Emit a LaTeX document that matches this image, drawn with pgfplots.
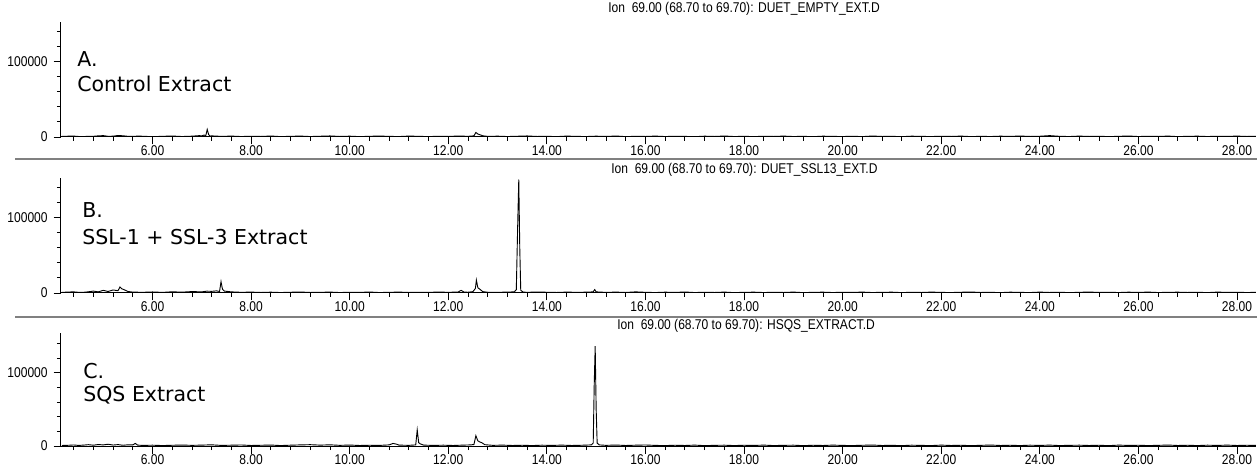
\documentclass[border=0pt]{standalone}
\usepackage{fontspec}
\setmainfont{Liberation Sans}
\newfontfamily\tickfont[FakeStretch=0.85]{Liberation Sans}
\newfontfamily\panelfont{DejaVu Sans}
\usepackage{pgfplots}
\usepackage{pgfplotstable}
\pgfplotsset{compat=1.18}

% Ion 69 traces (retention time in min, abundance)
\pgfplotstableread{
t y
4.16 700
4.3 1100
4.4 1200
4.5 700
4.6 500
4.7 1000
4.8 900
4.9 1500
5.0 1800
5.1 900
5.2 1100
5.3 2000
5.4 1600
5.5 900
5.6 700
5.7 1200
5.8 1000
6.0 400
6.2 900
6.4 1300
6.6 600
6.8 1100
6.95 1800
7.0 1500
7.05 2600
7.08 1400
7.11 10000
7.14 3000
7.17 1200
7.2 1500
7.4 800
7.6 1200
7.8 600
8.0 1000
8.2 700
8.4 1300
8.6 500
8.8 900
9.0 1200
9.2 600
9.4 1000
9.6 1400
9.8 700
10.0 1100
10.2 500
10.4 900
10.6 1300
10.8 800
11.0 600
11.2 1200
11.4 900
11.6 500
11.8 1000
12.0 700
12.2 1300
12.4 900
12.52 1500
12.56 6000
12.6 4000
12.64 3000
12.7 1600
12.8 800
13.0 1100
13.2 600
13.4 1000
13.6 1400
13.8 700
14.0 900
14.2 500
14.4 1200
14.6 800
14.8 600
15.0 1100
15.2 700
15.4 1300
15.6 500
15.8 900
16.0 700
16.2 1200
16.4 600
16.6 1000
16.8 800
17.0 400
17.2 1100
17.4 700
17.6 1300
17.8 600
18.0 900
18.2 500
18.4 1000
18.6 700
18.8 1200
19.0 600
19.2 900
19.4 400
19.6 1100
19.8 800
20.0 600
20.2 1000
20.4 500
20.6 1300
20.8 700
21.0 900
21.2 400
21.4 1100
21.6 800
21.8 600
22.0 1000
22.2 700
22.4 1200
22.6 500
22.8 900
23.0 600
23.2 1100
23.4 800
23.6 1300
23.8 700
24.0 1000
24.2 1800
24.4 900
24.6 600
24.8 1200
25.0 700
25.2 1000
25.4 500
25.6 900
25.8 1300
26.0 600
26.2 1000
26.4 700
26.6 1200
26.8 500
27.0 900
27.2 1100
27.4 600
27.6 1000
27.8 800
28.0 1200
28.2 700
28.38 900
}\panelA

\pgfplotstableread{
t y
4.16 800
4.3 1300
4.4 1500
4.5 900
4.6 900
4.7 1600
4.8 2500
4.9 1500
5.0 3500
5.1 2000
5.2 4000
5.3 3000
5.34 8000
5.38 5500
5.42 4500
5.5 2000
5.6 1200
5.8 900
6.0 1400
6.2 800
6.4 1600
6.6 1100
6.8 1900
7.0 1500
7.1 2400
7.2 2200
7.3 2800
7.36 2000
7.39 15000
7.42 5000
7.46 2500
7.6 1500
7.8 900
8.0 1200
8.2 700
8.4 1100
8.6 600
8.8 1000
9.0 1300
9.2 700
9.4 900
9.6 1200
9.8 600
10.0 1000
10.2 800
10.4 1300
10.6 600
10.8 900
11.0 1200
11.2 700
11.4 1000
11.6 800
11.8 1300
12.0 900
12.2 1300
12.26 3500
12.32 1200
12.4 1000
12.5 1800
12.55 6000
12.57 17000
12.6 7000
12.64 5000
12.7 1800
12.8 1000
13.0 900
13.2 1200
13.34 1500
13.38 4500
13.41 95000
13.43 150000
13.45 60000
13.47 3500
13.52 1200
13.6 900
13.8 1300
14.0 1000
14.2 700
14.4 1200
14.6 900
14.8 1100
14.94 1500
14.97 4500
15.0 1500
15.2 800
15.4 1200
15.6 700
15.8 1500
16.0 900
16.2 600
16.4 1100
16.6 800
16.8 1300
17.0 600
17.2 1000
17.4 700
17.6 1200
17.8 500
18.0 900
18.2 1100
18.4 600
18.6 1000
18.8 700
19.0 1200
19.2 500
19.4 900
19.6 1100
19.8 600
20.0 1000
20.2 800
20.4 1200
20.6 600
20.8 900
21.0 1100
21.2 500
21.4 1000
21.6 700
21.8 1200
22.0 800
22.2 600
22.4 1000
22.6 1300
22.8 700
23.0 900
23.2 500
23.4 1100
23.6 800
23.8 600
24.0 1200
24.2 700
24.4 1000
24.6 500
24.8 900
25.0 1300
25.2 700
25.4 1000
25.6 600
25.8 1100
26.0 800
26.2 1200
26.4 600
26.6 900
26.8 1100
27.0 700
27.2 1000
27.4 500
27.6 1200
27.8 800
28.0 1000
28.2 600
28.38 900
}\panelB

\pgfplotstableread{
t y
4.16 700
4.3 1000
4.4 1400
4.5 800
4.6 1200
4.7 1800
4.8 1100
4.9 2000
5.0 1500
5.1 2400
5.2 1300
5.3 1900
5.4 1000
5.5 1600
5.6 1500
5.65 3500
5.7 1200
5.8 800
6.0 1100
6.2 600
6.4 1000
6.6 1300
6.8 900
7.0 1200
7.2 1600
7.4 800
7.6 1100
7.8 1400
8.0 700
8.2 1000
8.4 1300
8.6 600
8.8 1100
9.0 1500
9.2 1800
9.4 1200
9.6 1600
9.8 900
10.0 1300
10.2 700
10.4 1000
10.6 800
10.8 1500
10.88 3500
10.95 2500
11.0 1200
11.2 900
11.34 1500
11.37 22000
11.4 4500
11.43 3000
11.5 1200
11.7 800
11.9 1100
12.1 700
12.3 1200
12.45 1500
12.52 2000
12.56 14000
12.6 7000
12.64 5500
12.68 4500
12.74 1800
12.9 900
13.1 1200
13.3 700
13.5 1000
13.7 600
13.9 1100
14.1 800
14.3 1200
14.5 700
14.7 1000
14.9 1500
14.94 4000
14.96 82000
14.98 136000
15.0 50000
15.02 4000
15.06 1500
15.2 900
15.4 1300
15.6 700
15.8 1100
16.0 1400
16.2 800
16.4 600
16.6 1000
16.8 700
17.0 1200
17.2 500
17.4 900
17.6 1100
17.8 600
18.0 1000
18.2 800
18.4 1200
18.6 600
18.8 900
19.0 1100
19.2 500
19.4 1000
19.6 700
19.8 1200
20.0 800
20.2 600
20.4 1000
20.6 1300
20.8 700
21.0 900
21.2 500
21.4 1100
21.6 800
21.8 600
22.0 1200
22.2 700
22.4 1000
22.6 500
22.8 900
23.0 1300
23.2 700
23.4 1000
23.6 600
23.8 1100
24.0 800
24.2 1200
24.4 600
24.6 900
24.8 1100
25.0 700
25.2 1000
25.4 500
25.6 1200
25.8 800
26.0 1000
26.2 600
26.4 900
26.6 1300
26.8 700
27.0 1000
27.2 600
27.4 1100
27.6 800
27.8 1200
28.0 700
28.2 1000
28.38 800
}\panelC

\pgfplotsset{
  chrom/.style={
    scale only axis, width=717pt, height=69pt,
    xmin=4.144, xmax=28.385, ymin=0, ymax=152000,
    axis x line=bottom, axis y line=left,
    axis line style={-, line width=0.6pt, black},
    xtick={6,8,...,28},
    xticklabels={6.00,8.00,10.00,12.00,14.00,16.00,18.00,20.00,22.00,24.00,26.00,28.00},
    minor xtick={4.4,4.8,...,28.1},
    ytick={0,100000}, yticklabels={0,100000},
    minor ytick={20000,40000,60000,80000,120000,140000},
    scaled y ticks=false,
    tick align=outside,
    major tick length=4.5pt, minor tick length=2.4pt,
    every tick/.style={black, line width=0.5pt},
    ticklabel style={font=\tickfont\fontsize{8.5}{9}\selectfont, text=black},
    xticklabel style={yshift=2.6pt},
  },
  trace/.style={black, line width=0.55pt, no marks},
}

\begin{document}
\begin{tikzpicture}
\path[use as bounding box] (0pt,0pt) rectangle (754.2pt,283.8pt);

% A. Control extract
\begin{axis}[chrom, at={(36.6pt,201.6pt)}, anchor=south west]
\addplot[trace] table[x=t, y=y] {\panelA};
\end{axis}

% B. SSL-1 + SSL-3 extract
\begin{axis}[chrom, at={(36.6pt,108pt)}, anchor=south west]
\addplot[trace] table[x=t, y=y] {\panelB};
\end{axis}

% C. SQS extract
\begin{axis}[chrom, height=67.8pt, ymax=154000, at={(36.6pt,16.2pt)}, anchor=south west]
\addplot[trace] table[x=t, y=y] {\panelC};
\end{axis}

% panel separators
\draw[black!50, line width=1.1pt] (9pt,188.4pt) -- (754.2pt,188.4pt);
\draw[black!50, line width=1.1pt] (9pt,93.6pt) -- (754.2pt,93.6pt);

% ion headers
\begin{scope}[every node/.style={font=\tickfont\fontsize{8.5}{9}\selectfont, text=black, anchor=west, inner sep=0pt}]
\node at (364.8pt,278.4pt) {Ion\ \ 69.00 (68.70 to 69.70): DUET\_EMPTY\_EXT.D};
\node at (366.6pt,181.8pt) {Ion\ \ 69.00 (68.70 to 69.70): DUET\_SSL13\_EXT.D};
\node at (370.2pt,88.2pt) {Ion\ \ 69.00 (68.70 to 69.70): HSQS\_EXTRACT.D};
\end{scope}

% panel captions
\begin{scope}[every node/.style={font=\panelfont\fontsize{12.3}{14}\selectfont, anchor=base west, inner sep=0pt}]
\node at (46.2pt,243.6pt) {A.};
\node at (46.2pt,228.6pt) {Control Extract};
\node at (49.2pt,153pt) {B.};
\node at (49.2pt,136.8pt) {SSL-1 + SSL-3 Extract};
\node at (49.8pt,57pt) {C.};
\node at (49.8pt,43.2pt) {SQS Extract};
\end{scope}
\end{tikzpicture}
\end{document}
